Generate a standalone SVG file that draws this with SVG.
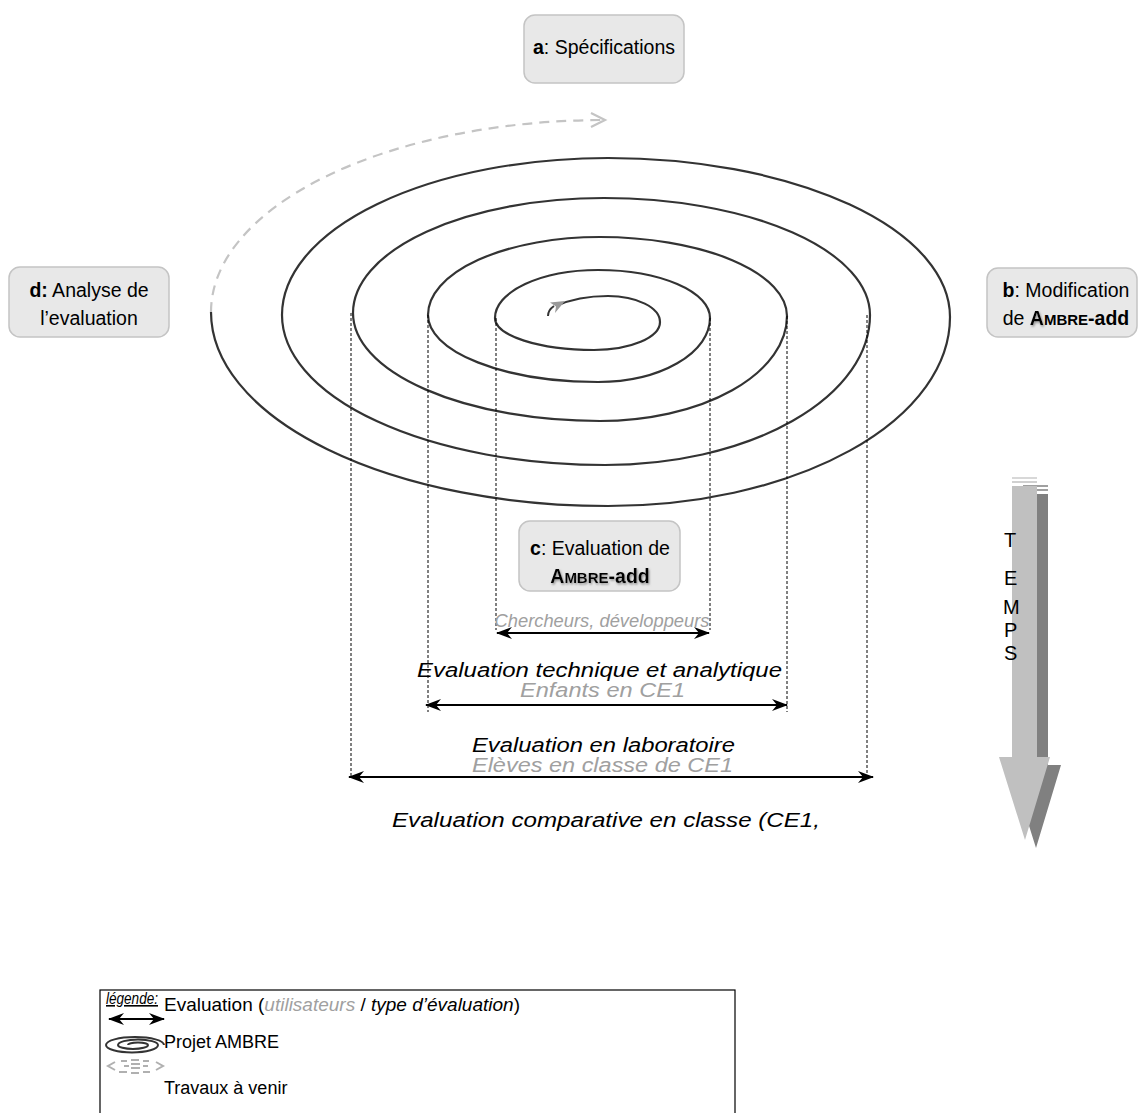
<svg xmlns="http://www.w3.org/2000/svg" width="1142" height="1113" viewBox="0 0 1142 1113">
<style>
text{font-family:"Liberation Sans",Arial,sans-serif;fill:#000}
.box{fill:#e8e8e8;stroke:#c4c4c4;stroke-width:1.5}
.bt{font-size:19.5px}
.b{font-weight:bold}
.spiral{fill:none;stroke:#333;stroke-width:2.2}
.future{fill:none;stroke:#c4c4c4;stroke-width:2.2;stroke-dasharray:10,7}
.guide{stroke:#000;stroke-width:1;stroke-dasharray:3,2;fill:none}
.dbl{stroke:#000;stroke-width:2;fill:none;marker-start:url(#ah);marker-end:url(#ah)}
.it{font-style:italic}
.gray{fill:#a0a0a0}
</style>
<defs>
<marker id="ah" viewBox="0 0 16 12" refX="15" refY="6" markerWidth="16" markerHeight="12" markerUnits="userSpaceOnUse" orient="auto-start-reverse">
<path d="M0,0 L16,6 L0,12 L5,6 Z" fill="#000"/>
</marker>
<filter id="sh" x="-10%" y="-30%" width="130%" height="160%">
<feDropShadow dx="1" dy="1.5" stdDeviation="1.2" flood-color="#777" flood-opacity="0.8"/>
</filter>
</defs>

<g id="connectors">
<path class="spiral" d="M556,306 Q578,296 608,296 A52,26 0 0 1 660,322 A66,28 0 0 1 594,350 A99,32 0 0 1 495,318 A103,48 0 0 1 598,270 A112,48 0 0 1 710,318 A112,64 0 0 1 598,382 A170,67 0 0 1 428,315 A172,78 0 0 1 600,237 A187,79 0 0 1 787,316 A187,105 0 0 1 600,421 A247,108 0 0 1 353,313 A251,115 0 0 1 604,198 A266,117 0 0 1 870,315 A265,150 0 0 1 605,465 A323,150 0 0 1 282,315 A326,157 0 0 1 608,158 A342,159 0 0 1 950,317 A342,189 0 0 1 608,506 A397,194 0 0 1 211,312"/>
<path d="M548,316 Q548,310 554,306" fill="none" stroke="#333" stroke-width="2"/>
<path d="M565,301 L550,302.5 L556,306.5 L555,313 Z" fill="#999"/>
<path class="future" d="M211,312 A394,192 0 0 1 603,120"/>
<path d="M591,113 L605,120 L591,127" fill="none" stroke="#c4c4c4" stroke-width="2.2"/>
<line class="guide" x1="351" y1="313" x2="351" y2="778"/>
<line class="guide" x1="428" y1="315" x2="428" y2="712"/>
<line class="guide" x1="496" y1="318" x2="496" y2="630"/>
<line class="guide" x1="710" y1="318" x2="710" y2="630"/>
<line class="guide" x1="787" y1="316" x2="787" y2="712"/>
<line class="guide" x1="867" y1="315" x2="867" y2="778"/>
<line class="dbl" x1="497" y1="633" x2="709" y2="633"/>
<line class="dbl" x1="426" y1="705" x2="787" y2="705"/>
<line class="dbl" x1="349" y1="777" x2="873" y2="777"/>
</g>

<g id="node-a">
<rect class="box" x="524" y="15" width="160" height="68" rx="11"/>
<text class="bt" x="604" y="54" text-anchor="middle"><tspan class="b">a</tspan>: Spécifications</text>
</g>

<g id="node-d">
<rect class="box" x="9" y="267" width="160" height="70" rx="11"/>
<text class="bt" x="89" y="297" text-anchor="middle"><tspan class="b">d:</tspan> Analyse de</text>
<text class="bt" x="89" y="325" text-anchor="middle">l’evaluation</text>
</g>

<g id="node-b">
<rect class="box" x="987" y="268" width="150" height="69" rx="11"/>
<text class="bt" x="1066" y="297" text-anchor="middle"><tspan class="b">b</tspan>: Modification</text>
<text class="bt" x="1066" y="325" text-anchor="middle">de <tspan class="b" filter="url(#sh)">A</tspan><tspan class="b" font-size="15">MBRE</tspan><tspan class="b">-add</tspan></text>
</g>

<g id="node-c">
<rect class="box" x="519" y="521" width="161" height="70" rx="11"/>
<text class="bt" x="600" y="555" text-anchor="middle"><tspan class="b">c</tspan>: Evaluation de</text>
<text class="bt b" x="600" y="583" text-anchor="middle" filter="url(#sh)">A<tspan font-size="15">MBRE</tspan>-add</text>
</g>

<g id="labels">
<text class="it gray" x="602" y="627" font-size="18" text-anchor="middle" textLength="215" lengthAdjust="spacingAndGlyphs">Chercheurs, développeurs</text>
<text class="it" x="417" y="677" font-size="20" textLength="365" lengthAdjust="spacingAndGlyphs">Evaluation technique et analytique</text>
<text class="it gray" x="520" y="697" font-size="20" textLength="165" lengthAdjust="spacingAndGlyphs">Enfants en CE1</text>
<text class="it" x="472" y="752" font-size="20" textLength="263" lengthAdjust="spacingAndGlyphs">Evaluation en laboratoire</text>
<text class="it gray" x="472" y="772" font-size="20" textLength="261" lengthAdjust="spacingAndGlyphs">Elèves en classe de CE1</text>
<text class="it" x="392" y="827" font-size="20" textLength="428" lengthAdjust="spacingAndGlyphs">Evaluation comparative en classe (CE1,</text>
</g>

<g id="temps">
<path d="M1023,494 L1048,494 L1048,765 L1061,765 L1036,848 L1010,765 L1023,765 Z" fill="#808080"/>
<rect x="1023" y="485" width="25" height="2" fill="#a0a0a0"/>
<rect x="1023" y="489" width="25" height="2" fill="#a0a0a0"/>
<path d="M1012,486 L1037,486 L1037,757 L1050,757 L1025,840 L999,757 L1012,757 Z" fill="#c0c0c0"/>
<rect x="1012" y="477" width="25" height="2" fill="#d8d8d8"/>
<rect x="1012" y="481" width="25" height="2" fill="#d0d0d0"/>
<text x="1004" y="547" font-size="20">T</text>
<text x="1004" y="585" font-size="20">E</text>
<text x="1003" y="614" font-size="20">M</text>
<text x="1004" y="637" font-size="20">P</text>
<text x="1004" y="660" font-size="20">S</text>
</g>

<g id="legend">
<rect x="100" y="990" width="635" height="140" fill="none" stroke="#000" stroke-width="1.2"/>
<text x="106" y="1004" font-size="16" class="it" text-decoration="underline" textLength="52" lengthAdjust="spacingAndGlyphs">légende:</text>
<line class="dbl" x1="109" y1="1019" x2="164" y2="1019"/>
<text x="164" y="1011" font-size="19">Evaluation (<tspan class="it gray">utilisateurs</tspan> / <tspan class="it">type d’évaluation</tspan>)</text>
<path d="M128,1045 A10,2.5 0 0 1 148,1045 A15,4 0 0 1 118,1045 A20,5.5 0 0 1 158,1045 A26,7.5 0 0 1 106,1045 A29,8 0 0 1 164,1045" fill="none" stroke="#333" stroke-width="2"/>
<text x="164" y="1048" font-size="18">Projet AMBRE</text>
<path d="M115,1062 l-7,4 l7,4 M121,1061 h6 M119,1072 h8 M124,1066 h5 M131,1060 h8 M131,1064 h9 M131,1068 h9 M131,1073 h8 M143,1066 h5 M143,1061 h6 M143,1072 h7 M156,1062 l7,4 l-7,4" fill="none" stroke="#b0b0b0" stroke-width="2"/>
<text x="164" y="1094" font-size="18">Travaux à venir</text>
</g>
</svg>
